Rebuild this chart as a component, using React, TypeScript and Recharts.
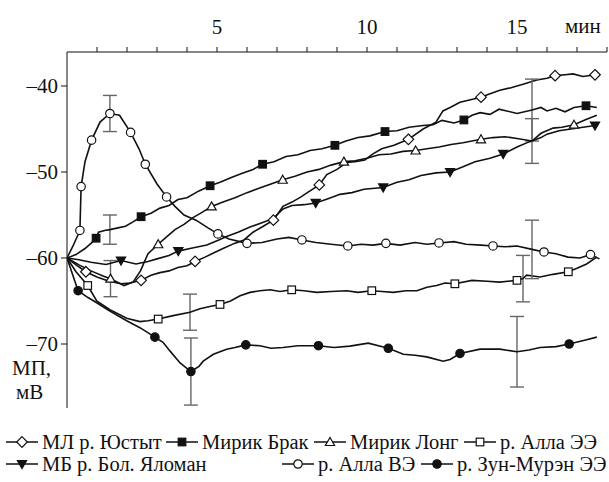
import React from "react";
import { LineChart, Line, XAxis, YAxis, ErrorBar } from "recharts";

const FONT = '"Liberation Serif", "Times New Roman", serif';

// [минуты, мВ, 1 = маркер]
type P = [number, number, number?];

const yustyt: P[] = [
  [0, -60], [0.3, -60.8], [0.63, -61.6, 1], [1.0, -62.2], [1.4, -62.7], [1.8, -63.0], [2.1, -62.9],
  [2.47, -62.6, 1], [2.8, -62.0], [3.1, -61.7], [3.4, -61.5], [3.7, -61.1], [4.0, -60.9], [4.27, -60.4, 1],
  [4.6, -59.9], [4.9, -59.4], [5.2, -58.9], [5.58, -58.3], [5.9, -57.9], [6.2, -57.0], [6.5, -56.4],
  [6.88, -55.6, 1], [7.2, -54.0], [7.5, -53.5], [7.8, -52.9], [8.1, -52.2], [8.41, -51.5, 1], [8.66, -50.3],
  [9.0, -49.7], [9.32, -48.9], [9.6, -48.8], [9.93, -48.6], [10.2, -47.9], [10.49, -47.3], [10.9, -46.9],
  [11.38, -46.2, 1], [11.87, -45.0], [12.3, -44.2], [12.53, -42.9], [12.77, -42.5], [13.1, -41.9],
  [13.45, -41.6], [13.8, -41.3, 1], [14.1, -40.9], [14.43, -40.5], [14.8, -40.2], [15.2, -39.8],
  [15.66, -39.3], [16.0, -39.1], [16.27, -38.8, 1], [16.6, -38.7], [16.87, -38.6], [17.2, -38.9],
  [17.6, -38.7, 1], [17.75, -38.7],
];

const brak: P[] = [
  [0, -60], [0.3, -59.6], [0.6, -58.9], [0.8, -58.3], [0.97, -57.7, 1], [1.05, -57.0], [1.25, -56.8],
  [1.43, -56.7], [1.7, -56.5], [1.95, -56.3], [2.2, -55.8], [2.47, -55.2, 1], [2.8, -54.8], [3.1, -54.2],
  [3.4, -53.9], [3.7, -53.2], [4.0, -53.0], [4.4, -52.2], [4.77, -51.6, 1], [5.1, -51.2], [5.5, -50.6],
  [5.8, -50.2], [6.2, -49.7], [6.52, -49.1, 1], [6.9, -48.8], [7.3, -48.2], [7.7, -48.0], [8.1, -47.5],
  [8.5, -47.3], [8.93, -46.9, 1], [9.3, -46.4], [9.7, -46.0], [10.1, -45.8], [10.6, -45.3, 1], [11.0, -45.2],
  [11.4, -44.8], [11.87, -44.6], [12.2, -44.5], [12.5, -44.0], [12.9, -44.3], [13.23, -43.95, 1],
  [13.5, -43.4], [13.77, -43.1], [14.1, -43.3], [14.4, -42.7], [14.66, -42.9], [15.0, -43.2], [15.5, -42.8],
  [15.8, -42.5], [16.0, -42.9], [16.3, -42.6], [16.6, -43.0], [16.9, -42.5], [17.3, -42.3, 1], [17.66, -42.5],
];

const long: P[] = [
  [0, -60], [0.4, -60.8], [0.8, -61.5], [1.2, -62.1], [1.45, -62.4, 1], [1.9, -63.2], [2.2, -62.8],
  [2.45, -61.5], [2.7, -59.5], [3.04, -58.4, 1], [3.3, -57.6], [3.6, -56.7], [3.9, -56.1], [4.2, -55.3],
  [4.5, -54.7], [4.82, -54.0, 1], [5.2, -53.5], [5.6, -53.0], [6.0, -52.4], [6.4, -51.9], [6.8, -51.4],
  [7.19, -50.9, 1], [7.6, -50.5], [8.0, -50.0], [8.4, -49.7], [8.8, -49.2], [9.23, -48.8, 1], [9.6, -48.7],
  [10.0, -48.4], [10.4, -48.0], [10.8, -47.9], [11.2, -47.6], [11.62, -47.5, 1], [12.0, -47.3],
  [12.4, -47.1], [12.8, -46.8], [13.2, -46.6], [13.8, -46.2, 1], [14.2, -46.0], [14.6, -45.9],
  [15.0, -46.1], [15.5, -46.4], [15.8, -45.5], [16.2, -44.9], [16.5, -44.8], [16.9, -44.5, 1],
  [17.3, -43.9], [17.66, -43.4],
];

const yaloman: P[] = [
  [0, -60], [0.4, -60.2], [0.8, -60.5], [1.3, -60.75], [1.8, -60.3, 1], [2.3, -60.7], [2.7, -60.4],
  [3.0, -60.1], [3.4, -59.7], [3.71, -59.2, 1], [4.1, -58.9], [4.66, -58.5], [5.06, -57.9], [5.32, -57.5],
  [5.7, -57.0], [6.1, -56.4], [6.5, -55.9], [6.88, -55.4], [7.2, -54.3], [7.5, -53.9], [7.9, -53.8],
  [8.29, -53.6, 1], [8.7, -53.1], [9.1, -52.6], [9.5, -52.4], [9.9, -52.0], [10.54, -51.8, 1], [11.0, -51.2],
  [11.4, -50.9], [11.8, -50.4], [12.3, -50.1], [12.77, -50.0, 1], [13.2, -49.4], [13.6, -48.8],
  [14.1, -48.4], [14.54, -47.9, 1], [15.0, -47.1], [15.4, -46.5], [15.8, -46.0], [16.0, -45.6],
  [16.4, -45.2], [16.8, -45.0], [17.2, -44.8], [17.6, -44.6, 1],
];

const allaEE: P[] = [
  [0, -60], [0.3, -61.6], [0.69, -63.2, 1], [0.99, -65.0], [1.43, -66.0], [1.99, -67.0], [2.43, -67.4],
  [2.7, -67.3], [3.04, -67.1, 1], [3.54, -66.7], [4.1, -66.3], [4.43, -65.9], [4.8, -65.6], [5.1, -65.4, 1],
  [5.45, -65.0], [5.77, -64.4], [6.1, -64.0], [6.43, -63.8], [6.77, -63.7], [7.1, -63.9], [7.49, -63.7, 1],
  [7.9, -63.8], [8.32, -64.0], [8.8, -63.9], [9.32, -63.8], [9.7, -64.0], [10.16, -63.8, 1], [10.5, -63.9],
  [10.88, -64.0], [11.3, -63.8], [11.66, -63.8], [12.0, -63.4], [12.32, -63.2], [12.6, -62.9],
  [12.93, -63.0, 1], [13.5, -62.6], [14.0, -62.7], [14.43, -62.8], [15.0, -62.6, 1], [15.2, -62.4],
  [15.32, -62.0], [15.77, -62.2], [16.2, -61.9], [16.71, -61.6, 1], [17.0, -61.2], [17.32, -60.7],
  [17.66, -59.9],
];

const allaVE: P[] = [
  [0, -60], [0.2, -58.6], [0.43, -56.8, 1], [0.47, -51.7, 1], [0.6, -48.8], [0.82, -46.3, 1], [1.1, -44.2],
  [1.43, -43.2, 1], [1.75, -43.4], [2.12, -45.4, 1], [2.4, -47.3], [2.61, -49.1, 1], [3.0, -51.4],
  [3.32, -52.9, 1], [3.6, -54.0], [3.9, -55.0], [4.3, -55.6], [4.7, -56.5], [5.03, -57.2, 1], [5.4, -57.8],
  [6.0, -58.3, 1], [6.5, -58.2], [7.0, -57.8], [7.4, -57.6], [7.83, -57.9, 1], [8.3, -58.2], [8.8, -58.4],
  [9.36, -58.6, 1], [9.8, -58.4], [10.2, -58.5], [10.63, -58.3, 1], [11.1, -58.5], [11.6, -58.2],
  [12.0, -58.4], [12.4, -58.25, 1], [12.9, -58.1], [13.3, -58.4], [13.8, -58.5], [14.2, -58.6, 1],
  [14.6, -58.7], [15.0, -58.6], [15.5, -59.0], [15.9, -59.3, 1], [16.3, -59.5], [16.7, -59.9],
  [17.1, -60.0], [17.45, -59.6, 1], [17.75, -60.1],
];

const zun: P[] = [
  [0, -60], [0.37, -63.8, 1], [0.7, -64.6], [0.99, -65.2], [1.4, -66.1], [1.99, -67.3], [2.43, -68.1],
  [2.93, -69.2, 1], [3.2, -69.8], [3.43, -70.8], [3.77, -72.2], [4.13, -73.2, 1], [4.4, -72.6],
  [4.54, -72.0], [4.88, -71.2], [5.32, -70.6], [5.6, -70.4], [5.96, -70.1, 1], [6.43, -70.2], [6.8, -70.5],
  [7.2, -70.4], [7.7, -70.2], [8.38, -70.2, 1], [8.9, -70.4], [9.43, -70.25], [10.04, -69.9],
  [10.71, -70.5, 1], [11.21, -71.2], [11.6, -71.3], [11.99, -71.5], [12.54, -72.0], [12.77, -71.8],
  [13.1, -71.1, 1], [13.77, -70.6], [14.43, -70.6], [15.0, -70.9], [15.4, -70.7], [15.77, -70.4],
  [16.3, -70.3], [16.74, -70.0, 1], [17.32, -69.5], [17.66, -69.2],
];

// [серия, минута, ошибка]
const errors: [string, number, number][] = [
  ["allaVE", 1.43, 2.1], ["brak", 1.43, 1.7], ["long", 1.45, 2.1],
  ["allaEE", 4.1, 2.1], ["zun", 4.13, 3.9],
  ["brak", 15.5, 3.6], ["long", 15.5, 2.6], ["allaVE", 15.5, 3.4],
  ["allaEE", 15.2, 2.7], ["zun", 15.0, 4.1],
];

const xTicks = [1, 2, 3, 4, 5, 6, 7, 8, 9, 10, 11, 12, 13, 14, 15, 16, 17, 18];
const yTicks = [-70, -60, -50, -40];

type Shape = "diamond" | "square" | "triangle" | "down" | "circle";

const series: { key: string; name: string; shape: Shape; filled: boolean; pts: P[] }[] = [
  { key: "yustyt", name: "МЛ р. Юстыт", shape: "diamond", filled: false, pts: yustyt },
  { key: "brak", name: "Мирик Брак", shape: "square", filled: true, pts: brak },
  { key: "long", name: "Мирик Лонг", shape: "triangle", filled: false, pts: long },
  { key: "allaEE", name: "р. Алла ЭЭ", shape: "square", filled: false, pts: allaEE },
  { key: "yaloman", name: "МБ р. Бол. Яломан", shape: "down", filled: true, pts: yaloman },
  { key: "allaVE", name: "р. Алла ВЭ", shape: "circle", filled: false, pts: allaVE },
  { key: "zun", name: "р. Зун-Мурэн ЭЭ", shape: "circle", filled: true, pts: zun },
];

const build = (key: string, pts: P[]) =>
  pts.map(([t, v, m]) => ({
    t,
    v,
    m: m === 1,
    e: errors.find((r) => r[0] === key && r[1] === t)?.[2],
  }));

function Mark({ shape, filled, cx, cy }: { shape: Shape; filled: boolean; cx: number; cy: number }) {
  const fill = filled ? "#111" : "#fff";
  const common = { fill, stroke: "#111", strokeWidth: 1.2 };
  if (shape === "diamond")
    return <polygon points={`${cx},${cy - 5.3} ${cx + 5.3},${cy} ${cx},${cy + 5.3} ${cx - 5.3},${cy}`} {...common} />;
  if (shape === "square") return <rect x={cx - 3.8} y={cy - 3.8} width={7.6} height={7.6} {...common} />;
  if (shape === "triangle")
    return <polygon points={`${cx},${cy - 4.5} ${cx + 4.6},${cy + 3.5} ${cx - 4.6},${cy + 3.5}`} {...common} />;
  if (shape === "down")
    return <polygon points={`${cx - 4.6},${cy - 3.5} ${cx + 4.6},${cy - 3.5} ${cx},${cy + 4.5}`} {...common} />;
  return <circle cx={cx} cy={cy} r={4.2} {...common} />;
}

function LegendSym({ shape, filled }: { shape: Shape; filled: boolean }) {
  return (
    <svg width={34} height={14} style={{ display: "inline-block", verticalAlign: "middle" }}>
      <line x1={1} y1={7} x2={33} y2={7} stroke="#111" strokeWidth={1.5} />
      <Mark shape={shape} filled={filled} cx={17} cy={7} />
    </svg>
  );
}

// [серия, x символа, центр строки]
const legendPos: [number, number, number][] = [
  [0, 5, 440], [1, 165, 440], [2, 313, 440], [3, 463, 440],
  [4, 5, 462], [5, 281, 462], [6, 420, 462],
];

export default function App() {
  return (
    <div style={{ position: "absolute", left: 0, top: 0, width: 609, height: 482, background: "#fff", fontFamily: FONT, color: "#111" }}>
      <LineChart width={609} height={482} margin={{ top: 22, right: 2, bottom: 74, left: 7 }}>
        <XAxis
          type="number"
          dataKey="t"
          orientation="top"
          domain={[0, 18]}
          ticks={xTicks}
          allowDataOverflow
          height={30}
          tickSize={5}
          tickMargin={13}
          tickFormatter={(v: number) => (v % 5 === 0 ? String(v) : "")}
          stroke="#111"
          tick={{ fill: "#111", fontSize: 21, fontFamily: FONT }}
        />
        <YAxis
          type="number"
          domain={[-77.44, -36.05]}
          ticks={yTicks}
          allowDataOverflow
          width={60}
          tickSize={6}
          tickMargin={3}
          tickFormatter={(v: number) => "\u2013" + Math.abs(v)}
          stroke="#111"
          tick={{ fill: "#111", fontSize: 21, fontFamily: FONT }}
        />
        {series.map((s) => (
          <Line
            key={s.key}
            data={build(s.key, s.pts)}
            dataKey="v"
            type="linear"
            stroke="#111"
            strokeWidth={1.6}
            isAnimationActive={false}
            activeDot={false}
            dot={(p: any) =>
              p.payload.m ? (
                <Mark key={`d-${s.key}-${p.index}`} shape={s.shape} filled={s.filled} cx={p.cx} cy={p.cy} />
              ) : (
                <g key={`d-${s.key}-${p.index}`} />
              )
            }
          >
            <ErrorBar dataKey="e" direction="y" width={7} stroke="#666" strokeWidth={1.4} isAnimationActive={false} />
          </Line>
        ))}
      </LineChart>
      <div style={{ position: "absolute", left: 565, top: 14, fontSize: 21 }}>мин</div>
      <div style={{ position: "absolute", left: 12, top: 356, fontSize: 21, lineHeight: "24px" }}>
        МП,
        <br />
        <span style={{ marginLeft: 4 }}>мВ</span>
      </div>
      {legendPos.map(([i, x, y]) => (
        <div
          key={i}
          style={{ position: "absolute", left: x, top: y - 12, height: 24, lineHeight: "24px", fontSize: 20.5, whiteSpace: "nowrap" }}
        >
          <LegendSym shape={series[i].shape} filled={series[i].filled} />
          <span style={{ marginLeft: 3, verticalAlign: "middle" }}>{series[i].name}</span>
        </div>
      ))}
    </div>
  );
}
